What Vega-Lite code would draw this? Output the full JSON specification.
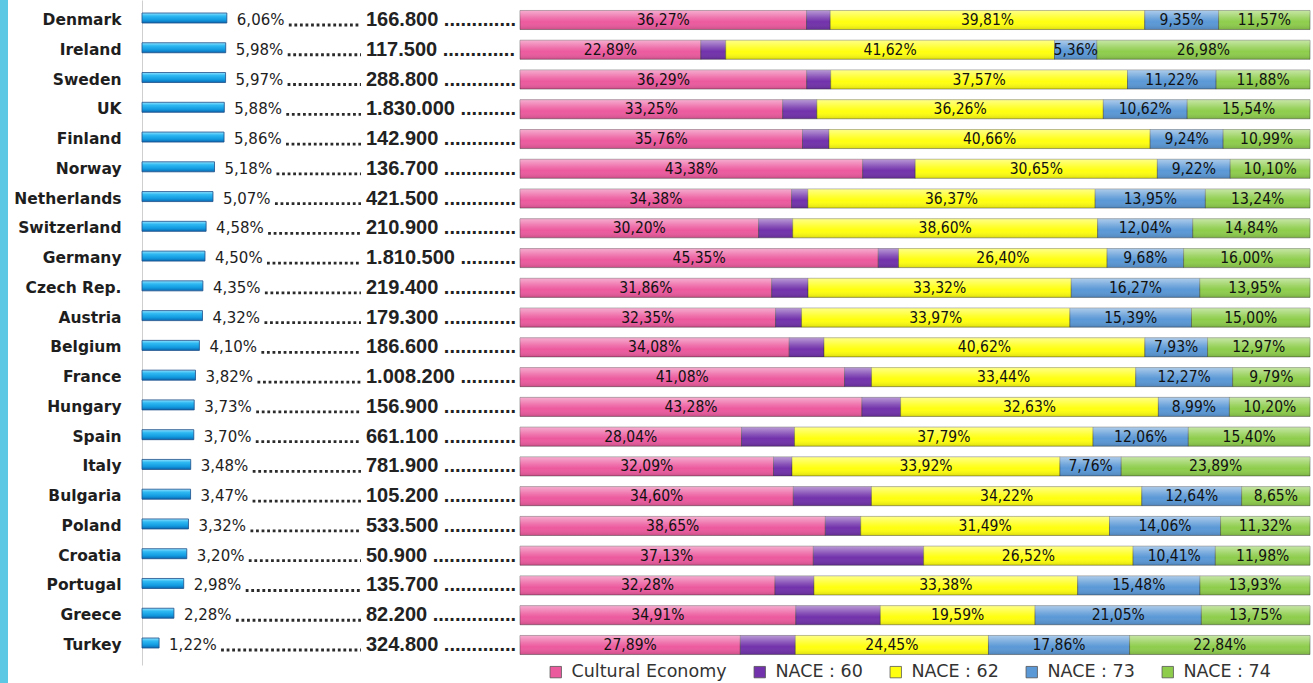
{
  "$schema": "https://vega.github.io/schema/vega-lite/v6.json",
  "padding": 0,
  "background": "white",
  "config": {"view": {"stroke": null}},
  "spacing": 134,
  "bounds": "flush",
  "data": {
    "values": [
      {"country": "Denmark", "pct": 6.06, "emp": "166.800", "CE": 36.27, "N60": 3.00, "N62": 39.81, "N73": 9.35, "N74": 11.57},
      {"country": "Ireland", "pct": 5.98, "emp": "117.500", "CE": 22.89, "N60": 3.15, "N62": 41.62, "N73": 5.36, "N74": 26.98},
      {"country": "Sweden", "pct": 5.97, "emp": "288.800", "CE": 36.29, "N60": 3.04, "N62": 37.57, "N73": 11.22, "N74": 11.88},
      {"country": "UK", "pct": 5.88, "emp": "1.830.000", "CE": 33.25, "N60": 4.33, "N62": 36.26, "N73": 10.62, "N74": 15.54},
      {"country": "Finland", "pct": 5.86, "emp": "142.900", "CE": 35.76, "N60": 3.35, "N62": 40.66, "N73": 9.24, "N74": 10.99},
      {"country": "Norway", "pct": 5.18, "emp": "136.700", "CE": 43.38, "N60": 6.65, "N62": 30.65, "N73": 9.22, "N74": 10.10},
      {"country": "Netherlands", "pct": 5.07, "emp": "421.500", "CE": 34.38, "N60": 2.06, "N62": 36.37, "N73": 13.95, "N74": 13.24},
      {"country": "Switzerland", "pct": 4.58, "emp": "210.900", "CE": 30.20, "N60": 4.32, "N62": 38.60, "N73": 12.04, "N74": 14.84},
      {"country": "Germany", "pct": 4.50, "emp": "1.810.500", "CE": 45.35, "N60": 2.57, "N62": 26.40, "N73": 9.68, "N74": 16.00},
      {"country": "Czech Rep.", "pct": 4.35, "emp": "219.400", "CE": 31.86, "N60": 4.60, "N62": 33.32, "N73": 16.27, "N74": 13.95},
      {"country": "Austria", "pct": 4.32, "emp": "179.300", "CE": 32.35, "N60": 3.29, "N62": 33.97, "N73": 15.39, "N74": 15.00},
      {"country": "Belgium", "pct": 4.10, "emp": "186.600", "CE": 34.08, "N60": 4.40, "N62": 40.62, "N73": 7.93, "N74": 12.97},
      {"country": "France", "pct": 3.82, "emp": "1.008.200", "CE": 41.08, "N60": 3.42, "N62": 33.44, "N73": 12.27, "N74": 9.79},
      {"country": "Hungary", "pct": 3.73, "emp": "156.900", "CE": 43.28, "N60": 4.90, "N62": 32.63, "N73": 8.99, "N74": 10.20},
      {"country": "Spain", "pct": 3.70, "emp": "661.100", "CE": 28.04, "N60": 6.71, "N62": 37.79, "N73": 12.06, "N74": 15.40},
      {"country": "Italy", "pct": 3.48, "emp": "781.900", "CE": 32.09, "N60": 2.34, "N62": 33.92, "N73": 7.76, "N74": 23.89},
      {"country": "Bulgaria", "pct": 3.47, "emp": "105.200", "CE": 34.60, "N60": 9.89, "N62": 34.22, "N73": 12.64, "N74": 8.65},
      {"country": "Poland", "pct": 3.32, "emp": "533.500", "CE": 38.65, "N60": 4.48, "N62": 31.49, "N73": 14.06, "N74": 11.32},
      {"country": "Croatia", "pct": 3.20, "emp": "50.900", "CE": 37.13, "N60": 13.96, "N62": 26.52, "N73": 10.41, "N74": 11.98},
      {"country": "Portugal", "pct": 2.98, "emp": "135.700", "CE": 32.28, "N60": 4.93, "N62": 33.38, "N73": 15.48, "N74": 13.93},
      {"country": "Greece", "pct": 2.28, "emp": "82.200", "CE": 34.91, "N60": 10.70, "N62": 19.59, "N73": 21.05, "N74": 13.75},
      {"country": "Turkey", "pct": 1.22, "emp": "324.800", "CE": 27.89, "N60": 6.96, "N62": 24.45, "N73": 17.86, "N74": 22.84}
    ]
  },
  "hconcat": [
    {
      "width": 8,
      "height": 683,
      "data": {"values": [{}]},
      "mark": {"type": "rect", "color": "#5cc8e4"}
    },
    {
      "spacing": 2,
      "bounds": "flush",
      "hconcat": [
        {
          "width": 376,
          "height": 665,
          "transform": [
            {"calculate": "replace(format(datum.pct,'.2f'),'.',',') + '%'", "as": "pctLabel"},
            {"calculate": "datum.emp + ' ' + slice('..............................', 0, 26 - 2 * length(datum.emp) + (length(datum.emp) > 7 ? 2 : 1))", "as": "empLabel"}
          ],
          "encoding": {
            "y": {
              "field": "country", "type": "nominal", "sort": null,
              "scale": {"paddingInner": 0.36, "paddingOuter": 0.352},
              "axis": {
                "title": null, "ticks": false, "domain": true, "domainColor": "#cfcfcf", "domainWidth": 1,
                "labelFont": "DejaVu Sans", "labelFontWeight": "bold", "labelFontSize": 15.5,
                "labelColor": "#1e1e1e", "labelPadding": 21
              }
            }
          },
          "layer": [
            {
              "mark": {
                "type": "bar", "size": 10, "yOffset": -2,
                "fill": {
                  "gradient": "linear", "x1": 0, "y1": 0, "x2": 0, "y2": 1,
                  "stops": [
                    {"offset": 0, "color": "#8fe2ff"},
                    {"offset": 0.3, "color": "#2fb9f2"},
                    {"offset": 0.7, "color": "#129ae0"},
                    {"offset": 1, "color": "#0b68b0"}
                  ]
                },
                "stroke": "#1d4e89", "strokeWidth": 0.8
              },
              "encoding": {
                "x": {"field": "pct", "type": "quantitative", "scale": {"domain": [0, 26.86], "nice": false, "zero": true}, "axis": null}
              }
            },
            {
              "mark": {"type": "text", "align": "left", "dx": 10, "font": "DejaVu Sans", "fontSize": 15, "color": "#1e1e1e"},
              "encoding": {
                "x": {"field": "pct", "type": "quantitative"},
                "text": {"field": "pctLabel"}
              }
            },
            {
              "mark": {"type": "rule", "xOffset": 62, "x2Offset": -5, "yOffset": 5, "strokeDash": [2.8, 2.76], "strokeWidth": 2.8, "color": "#2a2a2a"},
              "encoding": {
                "x": {"field": "pct", "type": "quantitative"},
                "x2": {"datum": 16}
              }
            },
            {
              "mark": {"type": "text", "align": "left", "font": "Liberation Sans", "fontWeight": "bold", "fontSize": 20, "color": "#222222", "clip": true},
              "encoding": {
                "x": {"datum": 16},
                "text": {"field": "empLabel"}
              }
            }
          ]
        },
        {
          "width": 790,
          "height": 665,
          "transform": [
            {"fold": ["CE", "N60", "N62", "N73", "N74"], "as": ["seg", "value"]},
            {"stack": "value", "groupby": ["country"], "sort": [{"field": "seg", "order": "ascending"}], "as": ["v0", "v1"]},
            {"calculate": "(datum.v0 + datum.v1) / 2", "as": "mid"},
            {"calculate": "replace(format(datum.value,'.2f'),'.',',') + '%'", "as": "lbl"}
          ],
          "encoding": {
            "y": {
              "field": "country", "type": "nominal", "sort": null,
              "scale": {"paddingInner": 0.36, "paddingOuter": 0.352},
              "axis": null
            }
          },
          "layer": [
            {
              "mark": {"type": "bar", "stroke": "#333333", "strokeWidth": 0.8, "strokeOpacity": 0.55},
              "encoding": {
                "x": {"field": "v0", "type": "quantitative", "scale": {"domain": [0, 100], "nice": false, "zero": true}, "axis": null},
                "x2": {"field": "v1"},
                "color": {
                  "field": "seg", "type": "nominal",
                  "scale": {"domain": ["CE", "N60", "N62", "N73", "N74"], "range": ["#ec5a9e", "#7232ab", "#ffff10", "#5a98d6", "#8ecd4c"]},
                  "legend": {
                    "orient": "none", "legendX": 547, "legendY": 663, "direction": "horizontal", "title": null,
                    "symbolType": "square", "symbolSize": 130, "symbolStrokeColor": "#555555", "symbolStrokeWidth": 0.8,
                    "labelFont": "DejaVu Sans", "labelFontSize": 17.5, "labelColor": "#333333",
                    "labelOffset": 7, "columnPadding": 24,
                    "labelExpr": "{'CE': 'Cultural Economy', 'N60': 'NACE : 60', 'N62': 'NACE : 62', 'N73': 'NACE : 73', 'N74': 'NACE : 74'}[datum.label]"
                  }
                }
              }
            },
            {
              "mark": {
                "type": "bar",
                "fill": {
                  "gradient": "linear", "x1": 0, "y1": 0, "x2": 0, "y2": 1,
                  "stops": [
                    {"offset": 0, "color": "rgba(255,255,255,0.5)"},
                    {"offset": 0.4, "color": "rgba(255,255,255,0.15)"},
                    {"offset": 0.6, "color": "rgba(255,255,255,0)"},
                    {"offset": 1, "color": "rgba(0,0,0,0.14)"}
                  ]
                }
              },
              "encoding": {
                "x": {"field": "v0", "type": "quantitative"},
                "x2": {"field": "v1"}
              }
            },
            {
              "transform": [{"filter": "datum.seg !== 'N60'"}],
              "mark": {"type": "text", "font": "DejaVu Sans Condensed", "fontSize": 15.5, "color": "#111111"},
              "encoding": {
                "x": {"field": "mid", "type": "quantitative"},
                "text": {"field": "lbl"}
              }
            }
          ]
        }
      ]
    }
  ]
}
